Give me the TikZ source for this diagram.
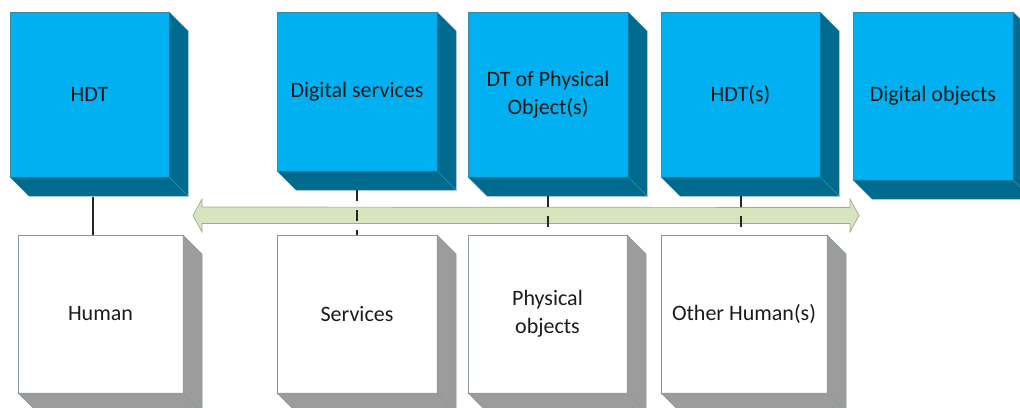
\documentclass[tikz,border=0pt]{standalone}
\usepackage{fontspec}
\setmainfont{Carlito}
\usetikzlibrary{calc}

\definecolor{cubeblue}{HTML}{00B0F0}
\definecolor{cubebluedark}{HTML}{016A8F}
\definecolor{cubeblueline}{HTML}{3A8CA6}
\definecolor{cubegrey}{HTML}{9C9C9C}
\definecolor{cubegreyline}{HTML}{8A9A9A}
\definecolor{busfill}{HTML}{D7E4BD}
\definecolor{busline}{HTML}{9CAE88}
\definecolor{labeltext}{HTML}{1C1C1C}

\tikzset{
  cubeface/.style={rectangle, inner sep=2pt, outer sep=0pt, line width=0.6pt,
    align=center, text=labeltext, font=\fontsize{22}{28}\selectfont},
  digital/.style={cubeface, fill=cubeblue, draw=cubeblueline},
  physical/.style={cubeface, fill=white, draw=cubegreyline},
  solidlink/.style={line width=1.3pt, draw=black!85},
  dashlink/.style={line width=1.8pt, draw=black!85, dash pattern=on 11pt off 9pt},
}

% depth of the extruded part of each cube
\newlength{\cubedepth}
\setlength{\cubedepth}{19pt}

% right side and bottom of a cube whose front face is node #1
\newcommand{\extrude}[3]{%
  \fill[#2, draw=#3, line width=0.5pt]
    (#1.north east) -- ++(\cubedepth,-\cubedepth)
    -- ($(#1.south east)+(\cubedepth,-\cubedepth)$) -- (#1.south east) -- cycle;
  \fill[#2, draw=#3, line width=0.5pt]
    (#1.south west) -- (#1.south east)
    -- ($(#1.south east)+(\cubedepth,-\cubedepth)$)
    -- ($(#1.south west)+(\cubedepth,-\cubedepth)$) -- cycle;
}

\begin{document}
\begin{tikzpicture}[x=1pt, y=-1pt]
  \clip (0,0) rectangle (1020,407);
  \fill[white] (0,0) rectangle (1020,407);

  % digital layer
  \node[digital, minimum width=159pt, minimum height=165pt] (hdt)  at (89.5,94.5)  {HDT};
  \node[digital, minimum width=160pt, minimum height=159pt] (dsrv) at (357,91.5)   {Digital services};
  \node[digital, minimum width=160pt, minimum height=165pt] (dtpo) at (548,94.5)   {DT of Physical\\Object(s)};
  \node[digital, minimum width=159pt, minimum height=165pt] (hdts) at (740.5,94.5) {HDT(s)};
  \node[digital, minimum width=160pt, minimum height=168pt] (dobj) at (933,96)     {Digital objects};
  \foreach \n in {hdt,dsrv,dtpo,hdts,dobj} {\extrude{\n}{cubebluedark}{cubeblueline}}

  % physical layer
  \node[physical, minimum width=165pt, minimum height=158pt] (human) at (100.5,314) {Human};
  \node[physical, minimum width=160pt, minimum height=158pt] (srv)   at (357,314)   {Services};
  \node[physical, minimum width=159pt, minimum height=158pt] (pobj)  at (547.5,314) {Physical\\objects};
  \node[physical, minimum width=166pt, minimum height=158pt] (ohum)  at (744,314)   {Other Human(s)};
  \foreach \n in {human,srv,pobj,ohum} {\extrude{\n}{cubegrey}{cubegreyline}}

  % two-headed exchange bus
  \coordinate (busw) at (193,215.5);
  \coordinate (buse) at (859,215.5);
  \fill[busfill, draw=busline, line width=0.7pt]
    (busw) -- ++(9,-16.5) -- ++(0,8) -- ($(buse)+(-9,-8)$) -- ++(0,-8.5)
    -- (buse) -- ++(-9,16.5) -- ++(0,-8.5) -- ($(busw)+(9,8)$) -- ++(0,8.5) -- cycle;

  % links between the layers
  \coordinate (hdtfoot)  at (93,197);
  \coordinate (dsrvfoot) at (357,190);
  \coordinate (dtpofoot) at (548,196);
  \coordinate (hdtsfoot) at (741,196);
  \draw[solidlink] (hdtfoot)  -- (hdtfoot  |- human.north);
  \draw[dashlink]  (dsrvfoot) -- (dsrvfoot |- srv.north);
  \draw[dashlink]  (dtpofoot) -- (dtpofoot |- pobj.north);
  \draw[dashlink]  (hdtsfoot) -- (hdtsfoot |- ohum.north);
\end{tikzpicture}
\end{document}
